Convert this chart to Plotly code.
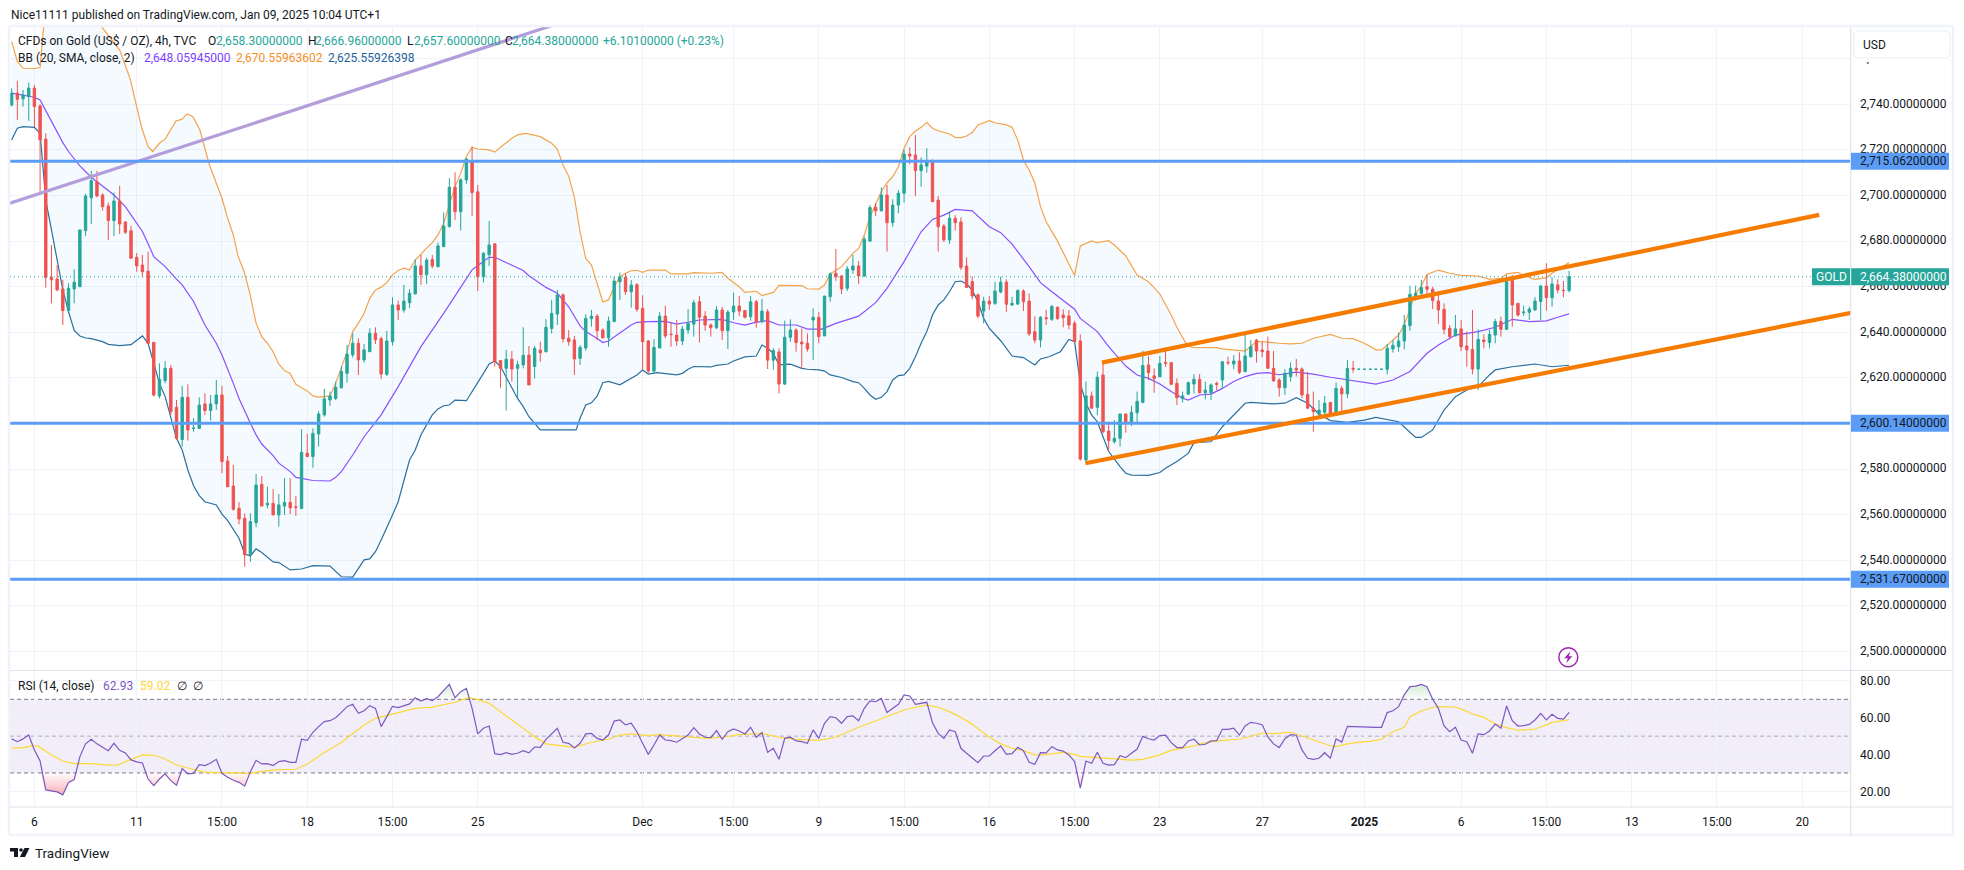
import plotly.graph_objects as go

W, H = 1964, 870
# ---------- OHLC (4h bars) ----------
open_ = [2739.7,2744.9,2742.4,2743.4,2747.1,2739.3,2724.7,2664.1,2663.4,2659,
2649.5,2659,2660,2684.6,2699,2706,2700.2,2695.4,2689,2697.6,
2688.4,2684.5,2672.9,2669.5,2666.8,2635.6,2612.1,2618.8,2624.2,2607.1,
2593,2611.5,2597.8,2597.8,2608.6,2605.7,2608.6,2612.5,2583.6,2572.6,
2562.8,2558.4,2542.4,2556.5,2573.3,2564.3,2565,2559.9,2563.8,2565.4,
2563.5,2562.7,2587,2585.5,2595.4,2603.8,2610.3,2611,2615.7,2622,
2630.1,2635.2,2627.9,2631.5,2639.6,2637.2,2621.6,2635.9,2652,2649.8,
2653,2656.8,2669.1,2665.2,2672,2668.8,2677.6,2686.4,2703.6,2692.9,
2706.8,2715.3,2701.6,2664.4,2674,2678.8,2627.6,2624.2,2628.2,2624.2,
2625.7,2630,2625,2632.2,2631.5,2641.7,2648,2656.4,2637.4,2636.6,
2628.6,2633.1,2646,2647.1,2641,2637.6,2644.7,2662.2,2664.1,2657.8,
2660.9,2650.5,2636.2,2623,2633.1,2647.1,2639.2,2638.8,2636.2,2641,
2643.6,2653.4,2647.1,2643.2,2642,2649.8,2640.7,2648.9,2651.5,2649.5,
2646.9,2653.4,2644.7,2649,2627.8,2631.4,2617.3,2637.8,2641,2635.7,
2635.2,2645.4,2646.6,2638.4,2655.6,2665.9,2664.7,2659.3,2667.3,2669.1,
2664.7,2680,2694.8,2693.3,2700.2,2688.1,2695.8,2701,2718.2,2717.8,
2710.9,2712.9,2714.8,2698,2686.6,2680.5,2690,2688.4,2669.1,2662.2,
2656.4,2649.3,2653.7,2652.7,2657.7,2662,2652,2652.4,2658.1,2653.7,
2640.3,2636.6,2646.4,2645.7,2651,2647.6,2647.2,2644,2636.2,2584,
2612.1,2607.1,2621.3,2596.7,2592,2593.5,2604.2,2600.1,2604.7,2609.3,
2625.7,2620.9,2620.5,2626.8,2626.7,2617.6,2610.9,2612.9,2617.3,2619.4,
2613.5,2613.5,2617.6,2619.1,2626.8,2626.1,2627.4,2622.8,2629.3,2636.6,
2632.2,2631.8,2624.2,2619.1,2615.7,2620.6,2624.2,2623.9,2612.8,2606.7,
2604.2,2604.9,2609.2,2603.8,2615.4,2613,2624.2,2623.8,2623.8,2623.8,
2623.8,2623.8,2623.8,2632.7,2633.7,2636.2,2642.9,2654.5,2657.1,2660,
2658.9,2653.7,2650.1,2641.8,2638.4,2641.5,2634,2632.5,2623.9,2636.6,
2635.5,2638.8,2644.7,2641.3,2662.7,2652.7,2648.6,2648.8,2649.8,2653.5,
2660.3,2655.2,2660.8,2658.4,2658.3]
high = [2747,2750.3,2746.3,2749.5,2748.5,2740,2727.3,2678.3,2669.5,2663,
2661.5,2667.6,2685,2700.7,2710.8,2710.8,2701,2696.9,2701.3,2704.2,
2688.7,2686.7,2674.7,2673.9,2675.4,2635.6,2626.4,2627.4,2625.7,2610.3,
2616.5,2617.2,2602.3,2611.5,2613.3,2612.5,2619.1,2616.5,2585.8,2581.8,
2565.5,2560.6,2560.6,2577.9,2577,2572.3,2571.3,2569.1,2576,2576,
2568.2,2597.5,2595.4,2597.9,2605.5,2615.2,2614,2618.4,2625.2,2634.5,
2639.6,2637.4,2634.9,2641.8,2642.2,2638.1,2640.6,2655.4,2653.9,2660.8,
2659,2672,2673.9,2672.7,2673.9,2679.3,2692.6,2707.6,2710.2,2707.6,
2716.3,2721.4,2704.6,2675.1,2688.8,2679,2627.6,2632.3,2631.8,2627.6,
2642.2,2634,2634,2635.9,2645.7,2654.2,2658.6,2657.1,2641,2638.4,
2634.4,2647.9,2649.8,2648,2641.7,2646.9,2664.4,2666.2,2665.9,2662.9,
2661.5,2656.2,2636.6,2637,2648.9,2651.7,2644.4,2645.4,2642.8,2650.2,
2654.2,2655.9,2649.3,2643.9,2651.5,2651.2,2649.8,2657.4,2655.9,2649.8,
2655.9,2654.2,2654.6,2650.2,2633,2633,2645.1,2645.7,2641.7,2641.7,
2639.5,2650.5,2649,2656,2666.3,2676.5,2665.1,2669.1,2673.9,2671.3,
2681.9,2695.8,2696.6,2703.6,2704.6,2698.3,2702.4,2720.2,2721.1,2726.5,
2716.7,2720.7,2715.9,2699.8,2687.5,2692.9,2691.4,2690.4,2672.9,2664.4,
2657.1,2655.6,2655.9,2662.2,2664.4,2663.2,2655.6,2658.9,2658.9,2657,
2647.1,2647.1,2649.8,2652,2651.3,2650.1,2649.8,2645,2639.1,2618.4,
2614,2622.8,2626.4,2600.8,2601.5,2604.2,2604.2,2607.8,2614,2632,
2629.6,2624.2,2629.6,2633.4,2627,2619.8,2614,2618.4,2621.7,2621.7,
2618.4,2617.6,2618.4,2627.1,2629.3,2630,2631.2,2639.1,2636.6,2637.1,
2635.9,2638.1,2631.8,2619.8,2623.8,2626.8,2628.3,2624.6,2622.5,2614,
2610.3,2612.1,2609.6,2618,2616.5,2627.9,2627.4,2623.81,2623.81,2623.81,
2623.81,2623.81,2634.9,2636.6,2639.9,2647.6,2660.5,2660.5,2663,2665.4,
2660,2656.4,2652.7,2643.2,2647.6,2645.4,2640.3,2649.8,2641.3,2639.1,
2641,2645.9,2646.9,2665.1,2665.1,2652.7,2651.7,2651.3,2655.4,2660.8,
2670.3,2664.1,2663.2,2662.5,2666.96]
low = [2739,2733.2,2739,2732.7,2730,2701.7,2659.6,2652.7,2658,2643.2,
2649,2652.7,2660,2682.3,2687.5,2699.2,2693.4,2680.5,2682.3,2683.1,
2683.1,2672.2,2666.6,2664.1,2634.9,2611.8,2611,2617.6,2603.8,2592.8,
2589.9,2592.5,2596.4,2597.8,2603.8,2601.3,2606,2578.2,2572.3,2561.8,
2555.8,2537.2,2539.4,2554.5,2563.8,2562.8,2559.9,2554.8,2559.9,2560.3,
2559.5,2562.7,2585.5,2580.6,2589.9,2603,2607.7,2610.3,2615.4,2617.9,
2628.9,2621.3,2626.7,2631.5,2634.9,2619.4,2620.9,2634.2,2645.4,2648.6,
2650.7,2656.8,2660.8,2661.2,2668.1,2668.4,2677.3,2685.9,2689.3,2684.6,
2705.1,2691,2658.1,2661.8,2669.1,2625,2615.7,2605.7,2618.4,2611.1,
2624.2,2616.9,2619.8,2627.1,2631.2,2639.5,2643.2,2635.5,2634.1,2621.3,
2625.7,2632,2642.5,2636.6,2637.3,2633.7,2644.4,2654.2,2656.4,2650.8,
2649,2623.5,2622,2622,2633.1,2637.4,2633.7,2634,2634.4,2639.3,
2638.1,2635.5,2640.7,2638.1,2641.4,2636.6,2632.7,2645.4,2647.1,2646.1,
2645.1,2642,2643.9,2623.9,2623.5,2613.2,2616.9,2635.9,2631.5,2624.2,
2631.5,2627.9,2635.2,2638.4,2653.4,2662.6,2656.8,2658.1,2665.6,2661.2,
2664.4,2679.8,2691,2692.9,2675.4,2686.3,2692.2,2696.9,2713.7,2699.8,
2703.9,2710,2697.3,2675.4,2679.6,2678.7,2684.6,2667.3,2659.7,2654.5,
2646.1,2643.9,2649.8,2652,2657.1,2649,2651.5,2652,2649.3,2638.4,
2635.2,2633.4,2643.2,2645,2645.4,2642.2,2641.3,2635.6,2583.7,2582.8,
2606.7,2603.7,2595.7,2587.7,2591.3,2589.9,2596,2598.9,2600.4,2608.9,
2619.1,2613.5,2620.3,2624.9,2616.9,2608.1,2609.2,2612.5,2613.2,2613.2,
2610.6,2610.3,2614.7,2615.2,2625.7,2623.8,2621.7,2622.3,2629,2626.7,
2629,2624.2,2618.4,2611.8,2612.5,2618.4,2620.6,2611.1,2606.7,2596.4,
2603,2603.3,2603,2603.8,2605.2,2611.1,2622.3,2623.8,2623.8,2623.8,
2623.8,2623.8,2621.6,2631.1,2631.5,2632.5,2640.7,2653.9,2656.4,2655.6,
2650.2,2643.7,2639.1,2636.9,2638.4,2631.8,2624.9,2621.6,2614.7,2633,
2633,2635.2,2638.1,2641,2642.5,2646.9,2647.2,2645.4,2649.5,2645.4,
2649.5,2651.3,2657.1,2655.4,2657.6]
close = [2744.9,2742.2,2744.1,2747.1,2739,2724.4,2664.1,2663,2658.6,2649.5,
2659.3,2662,2684.9,2699.8,2706.5,2699.8,2695.1,2689,2697.6,2687.5,
2683.9,2672.5,2669.1,2666.6,2635.2,2612.5,2619.4,2624.2,2605.2,2593.5,
2611.5,2597.2,2598,2608.1,2605.7,2608.6,2612.5,2583.3,2572.3,2562.4,
2558.1,2542.4,2557,2573,2563.8,2565,2559.9,2564.3,2565.4,2563,
2563.2,2587.4,2585.5,2595.7,2604.2,2610.8,2612.1,2615.9,2622.8,2630.4,
2635.2,2627.9,2632.3,2639.6,2636.7,2621.7,2636.2,2652,2649.8,2653.7,
2657.1,2669.1,2665.2,2671.7,2669.1,2677.9,2686.6,2703.6,2692.9,2706.8,
2716,2701.3,2664.4,2674.7,2678.3,2627.1,2624.2,2628.2,2623.9,2625.8,
2629.9,2616.9,2633,2631,2642.2,2648.3,2656.4,2637.1,2635.9,2628.3,
2633.4,2646.1,2647.1,2640.7,2637.6,2644.9,2662.5,2664.1,2657.8,2660.7,
2650.1,2635.9,2623,2633.4,2647.1,2638.4,2639,2636.2,2641.4,2643.9,
2653,2646.6,2643.2,2642,2649.8,2640.7,2648.9,2651.5,2649.3,2646.6,
2653.4,2644.4,2649.3,2627.8,2632,2617.3,2637.8,2641,2635.5,2634.9,
2632.7,2646.6,2638.1,2655.9,2665.6,2664.4,2659,2667.8,2669.1,2664.7,
2680.8,2694.7,2693.3,2700.2,2688.1,2695.8,2701,2718.2,2717.3,2710.9,
2713.4,2714.8,2697.3,2686.3,2680.5,2690,2688.1,2668.5,2659.7,2655.9,
2647.1,2653.7,2652.4,2658.1,2662,2652.3,2652.7,2658.3,2653.4,2639.3,
2636.6,2646.6,2646,2651.3,2646.1,2646.4,2643.2,2635.9,2584.4,2612.1,
2606.7,2620.3,2596.4,2592.5,2593.5,2604.2,2600.1,2604.9,2609.7,2625.4,
2622.3,2619.7,2626.4,2626.4,2617.2,2611.3,2612.1,2617.9,2619.4,2613.5,
2614.7,2616.9,2617.2,2627.1,2626.6,2627.4,2622.5,2629.6,2633.7,2631.8,
2631.5,2624.2,2618.7,2615.7,2622,2624.2,2623.5,2612.5,2606.7,2605.2,
2605.9,2608.9,2603.8,2615.4,2613,2624.2,2623.9,2623.81,2623.81,2623.81,
2623.81,2623.81,2633,2634.3,2636.2,2643.2,2656.7,2657.1,2659.6,2658.9,
2653.9,2649.8,2641.3,2638.1,2641.5,2633.7,2632.3,2623.9,2636.9,2635.9,
2639.1,2644.7,2641.3,2662.2,2652,2647.6,2648.9,2650.2,2653.7,2660.3,
2655.2,2661.2,2658.6,2658.3,2664.38]
rsi = [48.5,47,48.5,50.6,42.5,36.5,20.8,20.4,19.7,18.1,
24.8,26.4,38.9,45.8,48.3,45.8,44.1,42.1,46.1,42.3,
40.9,37.1,36,35.4,26.7,23.1,26.7,29.5,25.8,23.3,
32.4,29.5,29.8,34.5,34,35.4,37.4,29.8,27.7,26,
24.9,22.8,30.6,36.9,34.9,35.1,34,36.2,36.7,35.8,
35.8,48.3,47.7,52.1,55.2,57.9,58.4,60,62.9,66,
67.3,62.4,63.8,66.6,65.1,55.2,60.6,66.2,65.5,66.4,
67.5,70.9,69.1,70.4,69.3,71.4,74.5,78.1,70.9,74.2,
76,65.1,51.2,54.3,55.5,40.5,40,41,40.1,40.7,
42.1,40.9,44.1,43.9,48.3,51.2,54.3,46.7,46.1,43.6,
46.1,51.2,51.5,48.8,47.9,50.6,58.2,58.8,56.1,57,
52.4,46.1,40.1,45.2,50.6,47.9,47.6,46.7,48.8,50.6,
54.6,51.2,49.4,49.2,53,48.3,52.4,53.9,52.8,51.2,
54.8,49.4,51.9,41.2,43.4,37.4,48.8,49.4,47.4,47,
46.1,53.4,48.8,57,60.6,60,57,60.6,61,58.4,
65.1,69.1,68.7,70.5,62.8,65.1,67.3,72.4,71.8,67.3,
67.8,68.4,57.3,51.5,48.8,53.4,52.4,43.4,40.7,38.3,
35.6,39.2,39.2,42.1,44.7,40.1,40.5,43.9,42.1,35.8,
34.7,41,40.9,44.3,42.5,41.9,39.8,36.2,21.7,36.5,
35.3,41.2,35.3,34.3,34.5,39.4,38.3,40.7,43,49.9,
48.6,47.9,50.3,50.5,46.5,43.8,43.8,47.4,48.3,45.2,
45.6,47.4,47.6,53.7,53.7,54.3,50.6,55.5,57.5,57,
56.2,49.7,45.8,43.8,48.6,50.8,50.5,42.5,38,37.4,
38,41,38,48.5,46.8,55.3,55.2,54.8,54.8,54.8,
54.8,54.8,62.8,63.8,66,72.4,76.9,77.2,78.1,76.9,
70,65.1,55.5,52.4,54.8,47.9,47,40.7,51.2,50.8,
52.8,56.6,54.3,66.4,58.4,55.5,55.7,56.4,58.8,62.4,
58.8,61.9,59.7,59.3,62.93]
assert all(len(a) == 275 for a in (open_, high, low, close, rsi)), [len(a) for a in (open_, high, low, close, rsi)]
bars = list(range(275))

# ---------- Bollinger bands, read at visible bars ----------
upper_x = [0,1,2,3,4,5,6,8,10,12,14,15,16,19,20.9,21.3,22.9,24,24.8,26,27,28.9,29.9,30.9,31.9,33.1,34,34.8,37,38,39,39.8,40.9,41.9,43,44,45,46,47,48,49,50,51,52,53,54,56,57,58,59,60,61,62,63,64,65,66,67,68,69,70,71,73,74,75,76,77,78,79,80,81,82,84,85,86,88,89,90.5,
93,95,96,97,98,99,100,101,102,103,104,105,106,107,108,109,110,111,112,115,116,119,120,123,125,126,128,129,131,132,134,135,139,140,142,143,144,146,147,148,149,150,151,152,153,154,155,156,157,158,159,160,161,162,163,165,166,167,168,169,170,172,173,175,176,177,178,179,180,181,182,
184,186,187,188,190,191,193,194,196,198,200,202,204,205,206.5,207.6,212,213,215,217,219,220,223,225,227,229,232,234,236,238,240,241,242,244,245,246,247,248,249,251,253,255,258,260,262,263,265,266,268,270,271,274]
upper_v = [2767.5,2758.8,2755.8,2755.8,2755.7,2756.1,2785,2795,2800,2796,2785,2777,2773.4,2763.9,2750.7,2746.3,2729.5,2721.4,2719.3,2722.9,2724.7,2732.7,2733.4,2735.8,2734.6,2728.8,2720,2713.4,2698.8,2690,2682.7,2673.6,2666.6,2657.1,2644,2638.1,2635.2,2631.5,2626,2623.2,2622,2617.2,2615.7,2614.3,2612.1,2611.6,2612.1,2617.6,2624.5,2631.5,2640.3,2644,2648.3,2654.9,2658.6,2659.8,2661.8,2665.2,2667.1,2668.1,2667.4,2671.7,2676.9,2679.3,2682.7,2687.8,2695.9,2703.9,2709.8,2717.1,2721.2,2720.4,2720,2719,2721.2,2725.1,2726.6,2727.2,
2725.8,2722.9,2720.4,2713.4,2708.5,2699.2,2684.1,2672.4,2669.5,2661.5,2653.3,2654.2,2660,2664.4,2665.9,2667,2667.2,2666.3,2667.3,2667.3,2665.6,2665.6,2666.2,2665.9,2666.3,2663.7,2660,2657.5,2658,2656.1,2657.5,2660.6,2660.5,2659.1,2658.9,2660.7,2665.6,2668.8,2671.7,2674.6,2676.8,2682.7,2690.7,2696.6,2701.7,2705.6,2708.3,2712.6,2720.7,2725.8,2728.3,2729.9,2732.1,2729.5,2728.4,2727,2725.5,2725.4,2726.1,2727.6,2730.9,2732.8,2731.9,2731,2729.9,2724.3,2715.6,2711.2,2705.6,2695.1,2688.5,
2680,2669.5,2664.9,2677.9,2680.1,2679.3,2680.2,2678.3,2673.5,2665.1,2662.2,2656.8,2647.6,2642.2,2635.5,2633.4,2633.3,2632.7,2632.3,2631.8,2635.9,2635.9,2635.2,2634.9,2635.2,2637.4,2639.1,2637.4,2637.2,2635.2,2632.3,2632.3,2634.4,2638.8,2643.2,2650.5,2657.1,2660.3,2665.4,2667.3,2665.9,2665,2664.7,2663.2,2663.7,2665.6,2666.3,2664.9,2663.2,2664,2665.9,2670.56]
basis_x = [0,4,5,7,9,10,12,14,16,18,20,21,23,24,25,26,27,29,30,32,33,34,36,37,39,40,42,43,44,46,47,49,50,53,56,57,58,60,62,65,68,72,76,81,82,84,85,88,90,
91,94,96,98,100,101,103,104,105,107,109,110,112,115,117,119,121,125,127,129,131,133,135,138,140,142.5,145,149,152,154,157,160,162,164,166,169,172,174,176,179,181,182.5,
184.5,187,188,191,193,194,196,198,200,202,204,206,207,209,211,213,215,217,219,221,223,226,229,232,236,240,243,246,249,251,254,258,261,264,267,270,272,274]
basis_v = [2744.9,2743.1,2741.9,2732.4,2723.2,2719.3,2713,2708,2703.9,2700.2,2695.1,2691.5,2684.2,2678.8,2673.2,2671,2668.8,2663.3,2660.8,2653.5,2648.6,2643.2,2635.2,2630,2617.6,2611,2600.1,2595,2591,2585.9,2582.6,2578.9,2576.4,2575,2574.8,2576.4,2578.9,2586.2,2594.2,2603.8,2616.2,2633.7,2648.3,2667.4,2669.3,2672.9,2672.9,2669.5,2667.1,
2664.8,2659.7,2657.1,2651.2,2642.8,2640.3,2637.3,2635.5,2636.2,2639.8,2643.2,2644.4,2644.7,2644.8,2643.6,2644.4,2645.4,2645.7,2644.2,2643.2,2644.5,2645.1,2643.2,2643.2,2641.4,2641.4,2643.9,2647.1,2653,2659.3,2671,2684.1,2689.5,2691.4,2693.9,2693.3,2686.3,2683.7,2678.7,2668.8,2661.8,2658.8,
2654.9,2650.1,2646.1,2640.3,2633.7,2630.8,2625.2,2621.3,2619.8,2617.3,2614,2611.1,2610.3,2612.5,2612.9,2615.4,2618.4,2620.6,2622,2622.3,2621.4,2622.5,2621.7,2620.3,2618.7,2617.3,2619.1,2622.8,2630.8,2634.4,2638.8,2640.3,2642.2,2645.7,2644.7,2645,2646.6,2648.06]
lower_x = [0,1,2,4,5,6,7,8,9,10,11,12,13,14,16,17,19,21,22,23,24,25,26,27,28,29,30,31,32,33,34,36,37,38,40,41,42,43,44,46,47,49,51,52,53,56,57,58,60,62,63,64,65,66,67,68,69,70,71,72,73,74,75,76,77,78,80,82,83,84,85,86,88,89,90,
91,93,99.3,100,101,102,103,104,105,107,109,110,111,112,113.5,117,118,119,120,123,124,126,127,129,131,132,133,134,135,137,139,140,142,143,144,146,148,149,150,151,152,153,154,155,156,157,158,159,160,161,162,163,164,165,166,167,168,169,170,171,172,174,176,178,180,181,182.5,
184.5,186,187,188,189,190,191,192,193,195,196,197,200,202,203,205,207,208,211,213,215,217,218,222,224,226,228,230,232,235,238,240,244,245,247,248,250,252,254,256,258,260,261,264,268,271,274]
lower_v = [2724.4,2729.5,2730.2,2729.9,2727.3,2698,2684.9,2672.5,2658.6,2649,2640.8,2638.4,2637.5,2637.2,2635.9,2634.7,2634.2,2634.6,2636.4,2638.4,2635.2,2626.4,2617.6,2611.8,2602.3,2593.5,2588.4,2579.6,2572.7,2568.4,2565.7,2564.3,2560.3,2557.4,2549.7,2542.8,2541.9,2545,2543.4,2539.3,2539,2535.8,2536.2,2536.8,2537.7,2537.5,2535,2532.8,2532.6,2540.2,2540.6,2543.8,2548.9,2554.8,2559.9,2565.7,2575.2,2584,2588.4,2595,2599.4,2603.8,2606.4,2607.8,2608.1,2610.3,2610,2618.4,2622,2626.1,2627.4,2625,2615.4,2611,2607.4,
2603,2597.2,2597.2,2602.3,2608.1,2609.1,2612,2617.9,2618.5,2617,2619.8,2621.3,2623.5,2621.7,2622.3,2621.3,2622,2623.8,2625,2624.8,2625.5,2626.1,2627.4,2629.2,2629.6,2634.4,2633,2630.8,2625.7,2626,2624.2,2623.8,2623.5,2623,2621.3,2620.2,2618.4,2617.9,2615.4,2612.5,2610.6,2611.5,2614,2619.1,2621,2621.3,2624.2,2629.3,2635.2,2640.3,2647.6,2652,2654.2,2657.8,2662.2,2662.5,2661.2,2658.5,2653.4,2646.1,2641.7,2636.3,2629.6,2628.9,2625.7,2628.3,2629.3,
2631.5,2636.9,2635.9,2617.6,2608.9,2603.7,2600.8,2594.2,2587.7,2581.1,2578.2,2577.4,2577.3,2578.5,2580.4,2583.3,2586.9,2591.6,2592,2598.6,2603.7,2608.9,2609.3,2608.6,2608.9,2611.3,2608.9,2604.2,2601.3,2600.5,2601.5,2602.7,2600.8,2598.6,2593.9,2593.9,2597.2,2605.9,2611.8,2614.7,2616.2,2621.3,2623.5,2624.9,2626.1,2624.9,2625.56]

# ---------- RSI moving average ----------
rsi_ma_x = [0,2,3.5,4.6,7,9,11,14,17,18.7,21,23,25,27,29,31,34,37,39,41.6,44,47,50,52,54,56,58,60,62,64,67,71,74,78,80.3,82,84,87,90,91,92,94,96,99,102,105,107,109,112,114,118,121,122,125,128,132,135,138,142,145,149,152,154,157,160,161,163,165,167,169,172,174,176,178,180,182,185,187,188,191,194,197,199,202,204,206,208,210,213,216,218,220,222,225,227,229,232,233,235,237,239,241,243,245,246,248,250,252,254,255,257,259,261,263,265,267,268,270,271,273,274]
rsi_ma_v = [43.6,43.6,44.7,44.7,39.8,36.5,35.1,35.1,34.2,34.4,37.4,39.8,39.6,37.6,34.3,32.7,30.4,30,30.2,29.6,30.9,31.8,32,34.9,38.9,43,46.5,51.5,56.1,59.7,62,65.1,65.8,68.4,70.9,70,67.8,61.1,54.3,51.9,49.7,45.8,45,43.9,46.7,48.3,50.6,51.2,50.3,50.8,49.9,49.2,48.8,49.4,50.8,51.5,49.4,48.3,47.7,49.4,54.8,58.2,60.6,64.2,66.4,66.9,65.7,63.3,60.2,56.4,49.4,45.8,43.4,42.1,39.8,40,41.2,40.1,39,38.2,37.6,37,37.4,39.8,42.3,43.4,44.7,46.5,47.7,48.3,49.9,51.7,51.4,52.1,50.1,47.9,44.8,44.3,45.8,46.8,47.2,48.3,52.4,54.8,60.6,63.7,65.7,66,65.7,64.8,62,60.2,56.6,54.6,53.2,53.5,53.9,56.1,57.5,58.4,59.02]

# ---------- Drawings ----------
hline_levels = [2715.062, 2600.14, 2531.67]
hline_labels = ["2,715.06200000", "2,600.14000000", "2,531.67000000"]
chan_up_x, chan_up_y = [191.8, 318], [2626.7, 2691.5]
chan_lo_x, chan_lo_y = [188.9, 325], [2582.6, 2649.2]
diag_x, diag_y = [-0.3, 100], [2696.6, 2778.6]
last_price = 2664.38

# ---------- Axes ----------
x_tickvals = [4,22,37,52,67,82,111,127,142,157,172,187,202,220,238,255,270,285,300,315]
x_ticktext = ["6","11","15:00","18","15:00","25","Dec","15:00","9","15:00","16","15:00","23","27","<b>2025</b>","6","15:00","13","15:00","20"]
price_ticks = [2500,2520,2540,2560,2580,2600,2620,2640,2660,2680,2700,2720,2740,2760]
rsi_ticks = [20,40,60,80]
x_range = [-0.294, 323.54]
price_range = [2491.9, 2773.9]
rsi_range = [11.5, 85.4]

TEAL, RED, BLUE, TEXT = "#26a69a", "#ef5350", "#5b9cf6", "#131722"
GRID, EDGE = "#f0f3fa", "#e0e3eb"
FONT = "Roboto"

px = lambda x: x / W
py = lambda y: 1 - y / H
def paper_path(points, close_path=True):
    s = "M" + " L".join(f"{px(a):.5f},{py(b):.5f}" for a, b in points)
    return s + (" Z" if close_path else "")

fig = go.Figure()
# Base layer: band fill and Bollinger lines
fig.add_trace(go.Scatter(x=upper_x + lower_x[::-1], y=upper_v + lower_v[::-1], mode="lines", line=dict(width=0),
                         fill="toself", fillcolor="rgba(33,150,243,0.05)", hoverinfo="skip", yaxis="y"))
fig.add_trace(go.Scatter(x=upper_x, y=upper_v, mode="lines", line=dict(color="#f5a34a", width=1.2), yaxis="y"))
fig.add_trace(go.Scatter(x=lower_x, y=lower_v, mode="lines", line=dict(color="#2a6f9e", width=1.2), yaxis="y"))
fig.add_trace(go.Scatter(x=basis_x, y=basis_v, mode="lines", line=dict(color="#8a4fff", width=1.2), yaxis="y"))
# Candles, on an overlay so they sit above the band
fig.add_trace(go.Candlestick(x=bars, open=open_, high=high, low=low, close=close, yaxis="y3", whiskerwidth=0,
                             increasing=dict(line=dict(color=TEAL, width=1), fillcolor=TEAL),
                             decreasing=dict(line=dict(color=RED, width=1), fillcolor=RED)))
# Drawings above the candles
fig.add_trace(go.Scatter(x=x_range, y=[last_price, last_price], mode="lines",
                         line=dict(color=TEAL, width=1, dash="1px,3px"), yaxis="y4"))
fig.add_trace(go.Scatter(x=diag_x, y=diag_y, mode="lines", line=dict(color="#b39ddb", width=3.2), yaxis="y4"))
for lvl in hline_levels:
    fig.add_trace(go.Scatter(x=x_range, y=[lvl, lvl], mode="lines", line=dict(color=BLUE, width=3), yaxis="y4"))
fig.add_trace(go.Scatter(x=chan_up_x, y=chan_up_y, mode="lines", line=dict(color="#f57c00", width=4.2), yaxis="y4"))
fig.add_trace(go.Scatter(x=chan_lo_x, y=chan_lo_y, mode="lines", line=dict(color="#f57c00", width=4.2), yaxis="y4"))
# RSI pane
rsi_below = [min(v, 30) for v in rsi]
rsi_above = [max(v, 70) for v in rsi]
fig.add_trace(go.Scatter(x=bars, y=[30] * 275, mode="lines", line=dict(width=0), xaxis="x2", yaxis="y2"))
fig.add_trace(go.Scatter(x=bars, y=rsi_below, mode="lines", line=dict(width=0), xaxis="x2", yaxis="y2", fill="tonexty",
                         fillgradient=dict(type="vertical", start=17, stop=30,
                                           colorscale=[[0, "rgba(242,54,69,0.42)"], [1, "rgba(242,54,69,0.02)"]])))
fig.add_trace(go.Scatter(x=bars, y=[70] * 275, mode="lines", line=dict(width=0), xaxis="x2", yaxis="y2"))
fig.add_trace(go.Scatter(x=bars, y=rsi_above, mode="lines", line=dict(width=0), xaxis="x2", yaxis="y2", fill="tonexty",
                         fillgradient=dict(type="vertical", start=70, stop=80,
                                           colorscale=[[0, "rgba(76,175,80,0.02)"], [1, "rgba(76,175,80,0.30)"]])))
fig.add_trace(go.Scatter(x=rsi_ma_x, y=rsi_ma_v, mode="lines", line=dict(color="#fdd835", width=1.2), xaxis="x2", yaxis="y2"))
fig.add_trace(go.Scatter(x=bars, y=rsi, mode="lines", line=dict(color="#7e57c2", width=1.2), xaxis="x2", yaxis="y2"))

shapes = []
# RSI band and levels
shapes.append(dict(type="rect", xref="x2", yref="y2", x0=x_range[0], x1=x_range[1], y0=30, y1=70,
                   fillcolor="rgba(126,87,194,0.1)", line=dict(width=0), layer="below"))
for lvl, col in ((70, "#787b86"), (50, "rgba(120,123,134,0.55)"), (30, "#787b86")):
    shapes.append(dict(type="line", xref="x2", yref="y2", x0=x_range[0], x1=x_range[1], y0=lvl, y1=lvl,
                       line=dict(color=col, width=1, dash="4px,3px"), layer="below"))
# mask + USD box
shapes.append(dict(type="rect", xref="paper", yref="paper", x0=px(1852), x1=px(1952), y0=py(62), y1=py(28),
                   fillcolor="white", line=dict(width=0)))
r = 3
shapes.append(dict(type="path", xref="paper", yref="paper", fillcolor="white", line=dict(color=GRID, width=1.5),
                   path=paper_path([(1854+r,31),(1950-r,31),(1950,31+r),(1950,58-r),(1950-r,58),(1854+r,58),(1854,58-r),(1854,31+r)])))
# frame and separators
for (x0, y0, x1, y1) in [(9, 26, 1953, 26), (9, 835, 1953, 835), (9, 26, 9, 835), (1953, 26, 1953, 835)]:
    shapes.append(dict(type="line", xref="paper", yref="paper", x0=px(x0), x1=px(x1), y0=py(y0), y1=py(y1),
                       line=dict(color=GRID, width=2.5)))
for (x0, y0, x1, y1) in [(10, 670.5, 1953, 670.5), (10, 807, 1953, 807), (1850.7, 27, 1850.7, 835)]:
    shapes.append(dict(type="line", xref="paper", yref="paper", x0=px(x0), x1=px(x1), y0=py(y0), y1=py(y1),
                       line=dict(color=EDGE, width=1.2)))
# price tags
for lvl in hline_levels:
    shapes.append(dict(type="rect", xref="paper", yref="y", ysizemode="pixel", yanchor=lvl, y0=-8.5, y1=8.5,
                       x0=px(1851), x1=px(1949), fillcolor=BLUE, line=dict(width=0)))
shapes.append(dict(type="rect", xref="paper", yref="y", ysizemode="pixel", yanchor=last_price, y0=-8.5, y1=8.5,
                   x0=px(1812), x1=px(1949), fillcolor=TEAL, line=dict(width=0)))
shapes.append(dict(type="line", xref="paper", yref="y", ysizemode="pixel", yanchor=last_price, y0=-8.5, y1=8.5,
                   x0=px(1850.7), x1=px(1850.7), line=dict(color="white", width=1)))
# lightning badge
cx, cy = 1568.3, 657.3
shapes.append(dict(type="circle", xref="paper", yref="paper", x0=px(cx-9.5), x1=px(cx+9.5), y0=py(cy+9.5), y1=py(cy-9.5),
                   fillcolor="white", line=dict(color="#9c27b0", width=1.5)))
shapes.append(dict(type="path", xref="paper", yref="paper", fillcolor="#9c27b0", line=dict(width=0),
                   path=paper_path([(cx+2,cy-6),(cx-4,cy+1),(cx-0.5,cy+1),(cx-2,cy+6),(cx+4,cy-1),(cx+0.5,cy-1)])))
# TradingView mark
shapes.append(dict(type="path", xref="paper", yref="paper", fillcolor="#131722", line=dict(width=0),
                   path=paper_path([(10,848),(18,848),(18,857),(14,857),(14,851.5),(10,851.5)])))
shapes.append(dict(type="circle", xref="paper", yref="paper", x0=px(19.2), x1=px(22.8), y0=py(851.8), y1=py(848.2),
                   fillcolor="#131722", line=dict(width=0)))
shapes.append(dict(type="path", xref="paper", yref="paper", fillcolor="#131722", line=dict(width=0),
                   path=paper_path([(24.5,848),(29.5,848),(25,857),(19.8,857)])))

ann = []
def label(x, y, text, color=TEXT, size=12, anchor="left", font=FONT):
    ann.append(dict(xref="paper", yref="paper", x=px(x), y=py(y), text=text, showarrow=False, xanchor=anchor,
                    yanchor="middle", borderpad=0, font=dict(family=font, size=size, color=color)))

label(10, 15, "Nice11111 published on TradingView.com, Jan 09, 2025 10:04 UTC+1")
label(17, 41, "CFDs on Gold (US$ / OZ), 4h, TVC")
for x, t in ((206.5, "O"), (307, "H"), (405.8, "L"), (504, "C")):
    label(x, 41, t)
for x, t in ((215, "2,658.30000000"), (314, "2,666.96000000"), (412.8, "2,657.60000000"), (511, "2,664.38000000"),
             (602, "+6.10100000 (+0.23%)")):
    label(x, 41, t, TEAL)
label(17, 58, "BB (20, SMA, close, 2)")
label(143, 58, "2,648.05945000", "#7c3fff")
label(235, 58, "2,670.55963602", "#f58f1f")
label(326.5, 58, "2,625.55926398", "#1f5f99")
label(17, 686, "RSI (14, close)")
label(102, 686, "62.93", "#7e57c2")
label(138.7, 686, "59.02", "#fdd835")
label(175.7, 686, "∅")
label(192, 686, "∅")
label(1862, 44.5, "USD")
label(34, 853, "TradingView", size=13.5)
for lvl, t in zip(hline_levels, hline_labels):
    ann.append(dict(xref="paper", yref="y", x=px(1859), y=lvl, text=t, showarrow=False, xanchor="left", yanchor="middle",
                    borderpad=0, font=dict(family=FONT, size=12, color=TEXT)))
ann.append(dict(xref="paper", yref="y", x=px(1859), y=last_price, text=f"{last_price:,.8f}", showarrow=False,
                xanchor="left", yanchor="middle", borderpad=0, font=dict(family=FONT, size=12, color="white")))
ann.append(dict(xref="paper", yref="y", x=px(1831), y=last_price, text="GOLD", showarrow=False, xanchor="center",
                yanchor="middle", borderpad=0, font=dict(family=FONT, size=12, color="white")))

axis_common = dict(zeroline=False, showline=False, gridcolor=GRID, gridwidth=1, tickfont=dict(family=FONT, size=12, color=TEXT))
dom_x = [px(10), px(1850.7)]
fig.update_layout(
    width=W, height=H, margin=dict(l=0, r=0, t=0, b=0), paper_bgcolor="white", plot_bgcolor="white",
    showlegend=False, boxgap=0.4, hovermode=False, shapes=shapes, annotations=ann, font=dict(family=FONT),
    xaxis=dict(domain=dom_x, range=x_range, anchor="y", tickmode="array", tickvals=x_tickvals, showticklabels=False,
               ticks="", rangeslider=dict(visible=False), **axis_common),
    xaxis2=dict(domain=dom_x, range=x_range, anchor="y2", tickmode="array", tickvals=x_tickvals, ticktext=x_ticktext,
                ticks="outside", ticklen=4, tickcolor="rgba(0,0,0,0)", **axis_common),
    yaxis=dict(domain=[py(670), py(27)], range=price_range, anchor="x", side="right", tickmode="array",
               tickvals=price_ticks, tickformat=",.8f", ticks="outside", ticklen=6, tickcolor="rgba(0,0,0,0)",
               ticklabelshift=-1, **axis_common),
    yaxis3=dict(domain=[py(670), py(27)], range=price_range, overlaying="y", anchor="x", visible=False),
    yaxis4=dict(domain=[py(670), py(27)], range=price_range, overlaying="y", anchor="x", visible=False),
    yaxis2=dict(domain=[py(807), py(671)], range=rsi_range, anchor="x2", side="right", tickmode="array",
                tickvals=rsi_ticks, tickformat=".2f", ticks="outside", ticklen=6, tickcolor="rgba(0,0,0,0)", **axis_common),
)
fig.write_html("out.html", config=dict(displayModeBar=False),
               post_script="document.body.style.margin='0';document.body.style.overflow='hidden';")
